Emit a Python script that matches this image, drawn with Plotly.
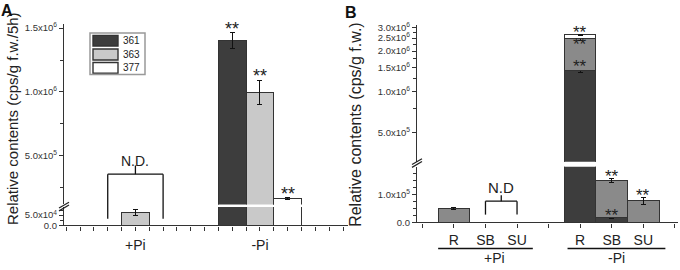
import math
import plotly.graph_objects as go

# ---------------- data ----------------
series_names = ["361", "363", "377"]

# Panel A (cps/g f.w./5h)
groups_A = ["+Pi", "-Pi"]
A_361 = [None, 1.40e6]
A_361_err = [None, 6.3e4]
A_363 = [6.3e4, 0.995e6]
A_363_err = [1.7e4, 9.5e4]
A_377 = [None, 1.65e5]
A_377_err = [None, 6.0e3]
A_sig = {"361": [False, True], "363": [False, True], "377": [False, True]}

# Panel B (cps/g f.w.) : tissues under +Pi then -Pi
tissues_B = ["R", "SB", "SU"]
groups_B = ["+Pi", "-Pi"]
B_361 = [None, None, None, 1.43e6, 1.7e4, None]
B_361_err = [None, None, None, 4.0e4, 2.0e3, None]
B_363 = [5.0e4, None, None, 1.04e6, 1.34e5, 7.7e4]
B_363_err = [3.0e3, None, None, 8.0e4, 7.0e3, 1.2e4]
B_377 = [None, None, None, 1.69e5, None, None]
B_377_err = [None, None, None, 3.0e4, None, None]
B_sig = {"361": [False, False, False, True, True, False],
         "363": [False, False, False, True, True, True],
         "377": [False, False, False, True, False, False]}

# ---------------- layout helpers ----------------
W, H = 680, 270
def px(x):
    return x / W
def py(y):
    return 1 - y / H

FONT = "Liberation Sans, Arial, sans-serif"
TXT = "#222222"
AX = "#333333"

colA = {"361": "#3d3d3d", "363": "#c9c9c9", "377": "#ffffff"}
colB = {"361": "#3d3d3d", "363": "#8a8a8a", "377": "#ffffff"}

domA_x = [px(64), px(348)]
rngA_x = [-0.58, 9.68]
domA_lo = [py(229), py(210)]
rngA_lo = [0, 9.0e4]
domA_hi = [py(207.3), py(21)]
rngA_hi = [1.19e5, 1.53e6]

domB_x = [px(417), px(678)]
rngB_x = [-1.17, 7.1]
domB_lo = [py(226), py(168.3)]
rngB_lo = [0, 1.99e5]
domB_hi = [py(163.3), py(21.7)]
rngB_hi = [5.4784, 6.4957]


def to_paper(v, dom, rng, log=False):
    if log:
        v = math.log10(v)
    return dom[0] + (v - rng[0]) / (rng[1] - rng[0]) * (dom[1] - dom[0])


fig = go.Figure()

# ---------------- Panel A bars ----------------
A_vals = {"361": (A_361, A_361_err), "363": (A_363, A_363_err), "377": (A_377, A_377_err)}
A_centers = [2, 6.5]
offsets = [-1, 0, 1]
for k, name in enumerate(series_names):
    vals, errs = A_vals[name]
    xs = [c + offsets[k] for c in A_centers]
    for ya in ["y", "y2"]:
        fig.add_trace(go.Bar(
            x=xs, y=vals, width=1, xaxis="x", yaxis=ya, name=name,
            marker=dict(color=colA[name], line=dict(color=AX, width=1)),
            error_y=dict(type="data", array=errs, visible=True, color="#111111",
                         thickness=1, width=2.5),
            showlegend=False, hoverinfo="skip"))

# ---------------- Panel B bars (stacked) ----------------
B_vals = {"361": (B_361, B_361_err), "363": (B_363, B_363_err), "377": (B_377, B_377_err)}
B_pos = [0, 1, 2, 4, 5, 6]
for name in series_names:
    vals, errs = B_vals[name]
    for ya in ["y3", "y4"]:
        fig.add_trace(go.Bar(
            x=B_pos, y=vals, width=1, xaxis="x3", yaxis=ya, name=name,
            marker=dict(color=colB[name], line=dict(color=AX, width=1)),
            error_y=dict(type="data", array=errs, visible=True, color="#111111",
                         thickness=1, width=2.5),
            showlegend=False, hoverinfo="skip"))

annotations = []
shapes = []

# ---------------- significance stars ----------------
star_font_A = dict(family=FONT, size=18, color=TXT)
star_font_B = dict(family=FONT, size=17, color=TXT)
for k, name in enumerate(series_names):
    vals, errs = A_vals[name]
    for i, c in enumerate(A_centers):
        if A_sig[name][i] and vals[i] is not None:
            top = vals[i] + (errs[i] or 0)
            annotations.append(dict(x=c + offsets[k], y=top, xref="x", yref="y2",
                                    text="**", showarrow=False, font=star_font_A,
                                    xanchor="center", yanchor="middle", yshift=4))

star_shift_B = {("361", 3): 3, ("363", 3): -8, ("377", 3): 2}
cum = [0.0] * len(B_pos)
for name in series_names:
    vals, errs = B_vals[name]
    for i, x in enumerate(B_pos):
        if vals[i] is None:
            continue
        cum[i] += vals[i]
        if B_sig[name][i]:
            top = cum[i] + (errs[i] or 0)
            shift = star_shift_B.get((name, i), 2)
            if top > 2.0e5:
                annotations.append(dict(x=x, y=math.log10(top), xref="x3", yref="y4",
                                        text="**", showarrow=False, font=star_font_B,
                                        xanchor="center", yanchor="middle", yshift=shift))
            else:
                annotations.append(dict(x=x, y=top, xref="x3", yref="y3",
                                        text="**", showarrow=False, font=star_font_B,
                                        xanchor="center", yanchor="middle", yshift=shift))

# ---------------- N.D. brackets ----------------
line_st = dict(color="#111111", width=1.3)
# Panel A: over +Pi group (x 1..3)
a_top = to_paper(3.56e5, domA_hi, rngA_hi)
a_bot = to_paper(3.3e4, domA_lo, rngA_lo)
a_tick = to_paper(4.24e5, domA_hi, rngA_hi)
for xx in [1, 3]:
    shapes.append(dict(type="line", xref="x", yref="paper", x0=xx, x1=xx, y0=a_bot, y1=a_top, line=line_st))
shapes.append(dict(type="line", xref="x", yref="paper", x0=1, x1=3, y0=a_top, y1=a_top, line=line_st))
shapes.append(dict(type="line", xref="x", yref="paper", x0=2, x1=2, y0=a_top, y1=a_tick, line=line_st))
annotations.append(dict(x=2, y=4.62e5, xref="x", yref="y2", text="N.D.", showarrow=False,
                        font=dict(family=FONT, size=14, color=TXT), xanchor="center", yanchor="middle"))

# Panel B: over +Pi SB..SU (x 1..2)
b_top = to_paper(7.6e4, domB_lo, rngB_lo)
b_bot = to_paper(2.8e4, domB_lo, rngB_lo)
b_tick = to_paper(9.7e4, domB_lo, rngB_lo)
for xx in [1, 2]:
    shapes.append(dict(type="line", xref="x3", yref="paper", x0=xx, x1=xx, y0=b_bot, y1=b_top, line=line_st))
shapes.append(dict(type="line", xref="x3", yref="paper", x0=1, x1=2, y0=b_top, y1=b_top, line=line_st))
shapes.append(dict(type="line", xref="x3", yref="paper", x0=1.5, x1=1.5, y0=b_top, y1=b_tick, line=line_st))
annotations.append(dict(x=1.5, y=1.26e5, xref="x3", yref="y3", text="N.D", showarrow=False,
                        font=dict(family=FONT, size=15, color=TXT), xanchor="center", yanchor="middle"))

# ---------------- axis break marks ----------------
brk = dict(color="#222222", width=1.2)
for (x0, y0, x1, y1) in [(59, 211, 69, 205), (59, 214, 69, 208)]:
    shapes.append(dict(type="line", xref="paper", yref="paper", x0=px(x0), y0=py(y0), x1=px(x1), y1=py(y1), line=brk))
for (x0, y0, x1, y1) in [(412, 166, 422, 160), (412, 169, 422, 163)]:
    shapes.append(dict(type="line", xref="paper", yref="paper", x0=px(x0), y0=py(y0), x1=px(x1), y1=py(y1), line=brk))

# ---------------- group underlines panel B ----------------
for (xa, xb) in [(-0.5, 2.5), (3.6, 6.7)]:
    shapes.append(dict(type="line", xref="x3", yref="paper", x0=xa, x1=xb, y0=py(253), y1=py(253),
                       line=dict(color="#111111", width=1.6)))
for g, xg in zip(groups_B, [1.3, 5.15]):
    annotations.append(dict(x=xg, y=py(262.5), xref="x3", yref="paper", text=g, showarrow=False,
                            font=dict(family=FONT, size=14, color=TXT), xanchor="center", yanchor="middle"))

# ---------------- manual legend (panel A) ----------------
shapes.append(dict(type="rect", xref="paper", yref="paper", x0=px(90), x1=px(145), y0=py(30), y1=py(73),
                   line=dict(color="#999999", width=1.5), fillcolor="#ffffff", layer="above"))
rows = [(32.5, 43.5), (46.5, 58), (60.5, 71.5)]
for name, (r0, r1) in zip(series_names, rows):
    shapes.append(dict(type="rect", xref="paper", yref="paper", x0=px(93), x1=px(118), y0=py(r1), y1=py(r0),
                       line=dict(color=AX, width=1.4), fillcolor=colA[name], layer="above"))
    annotations.append(dict(x=px(120.5), y=py((r0 + r1) / 2), xref="paper", yref="paper", text=name,
                            showarrow=False, xanchor="left", yanchor="middle",
                            font=dict(family=FONT, size=10, color=TXT)))

# ---------------- axis titles and panel letters ----------------
annotations.append(dict(x=px(12), y=py(119), xref="paper", yref="paper",
                        text="Relative contents (cps/g f.w./5h)", textangle=-90, showarrow=False,
                        xanchor="center", yanchor="middle",
                        font=dict(family=FONT, size=15, color=TXT)))
annotations.append(dict(x=px(356), y=py(125), xref="paper", yref="paper",
                        text="Relative contents (cps/g f.w.)", textangle=-90, showarrow=False,
                        xanchor="center", yanchor="middle",
                        font=dict(family=FONT, size=16, color=TXT)))
annotations.append(dict(x=px(7), y=py(7), xref="paper", yref="paper", text="<b>A</b>", showarrow=False,
                        xanchor="center", yanchor="middle",
                        font=dict(family=FONT, size=16, color="#111111")))
annotations.append(dict(x=px(351), y=py(9), xref="paper", yref="paper", text="<b>B</b>", showarrow=False,
                        xanchor="center", yanchor="middle",
                        font=dict(family=FONT, size=16, color="#111111")))

# ---------------- axes ----------------
tickfont = dict(family=FONT, size=9.5, color=AX)
common_y = dict(showline=True, linecolor=AX, linewidth=1.3, showgrid=False, zeroline=False,
                ticks="outside", ticklen=4, tickcolor=AX, tickfont=tickfont)
catfont = dict(family=FONT, size=14, color=TXT)

fig.update_layout(
    width=W, height=H, margin=dict(l=0, r=0, t=0, b=0),
    paper_bgcolor="white", plot_bgcolor="rgba(0,0,0,0)",
    barmode="stack", showlegend=False,
    font=dict(family=FONT, color=TXT),
    xaxis=dict(domain=domA_x, range=rngA_x, anchor="y", showline=True, linecolor=AX, linewidth=1.3,
               showgrid=False, zeroline=False, tickmode="array", tickvals=A_centers, ticktext=groups_A,
               ticks="outside", ticklen=4, tickcolor=AX, tickfont=catfont, ticklabelstandoff=3,
               minor=dict(tick0=0, dtick=0.5, ticks="outside", ticklen=4, tickcolor=AX, showgrid=False)),
    yaxis=dict(domain=domA_lo, range=rngA_lo, anchor="x", tickmode="array",
               tickvals=[0, 5e4], ticktext=["0.0", "5.0x10<sup>4</sup>"],
               minor=dict(tickvals=[2.5e4, 7.5e4], ticks="outside", ticklen=3, tickcolor=AX, showgrid=False),
               **common_y),
    yaxis2=dict(domain=domA_hi, range=rngA_hi, anchor="x", tickmode="array",
                tickvals=[5e5, 1e6, 1.5e6],
                ticktext=["5.0x10<sup>5</sup>", "1.0x10<sup>6</sup>", "1.5x10<sup>6</sup>"],
                minor=dict(tickvals=[2.5e5, 7.5e5, 1.25e6], ticks="outside", ticklen=3, tickcolor=AX,
                           showgrid=False),
                **common_y),
    xaxis3=dict(domain=domB_x, range=rngB_x, anchor="y3", showline=True, linecolor=AX, linewidth=1.3,
                showgrid=False, zeroline=False, tickmode="array", tickvals=B_pos,
                ticktext=tissues_B + tissues_B, ticks="outside", ticklen=4, tickcolor=AX,
                tickfont=catfont, ticklabelstandoff=1,
                minor=dict(tick0=0, dtick=1, ticks="outside", ticklen=4, tickcolor=AX, showgrid=False)),
    yaxis3=dict(domain=domB_lo, range=rngB_lo, anchor="x3", tickmode="array",
                tickvals=[0, 1e5], ticktext=["0.0", "1.0x10<sup>5</sup>"],
                minor=dict(tickvals=[2.5e4, 5e4, 7.5e4, 1.25e5, 1.5e5, 1.75e5], ticks="outside", ticklen=3,
                           tickcolor=AX, showgrid=False),
                **common_y),
    yaxis4=dict(domain=domB_hi, range=rngB_hi, anchor="x3", type="log", tickmode="array",
                tickvals=[5e5, 1e6, 1.5e6, 2e6, 2.5e6, 3e6],
                ticktext=["5.0x10<sup>5</sup>", "1.0x10<sup>6</sup>", "1.5x10<sup>6</sup>",
                          "2.0x10<sup>6</sup>", "2.5x10<sup>6</sup>", "3.0x10<sup>6</sup>"],
                minor=dict(tickvals=[7.5e5, 1.25e6, 1.75e6, 2.25e6, 2.75e6], ticks="outside", ticklen=3,
                           tickcolor=AX, showgrid=False),
                **common_y),
    annotations=annotations, shapes=shapes,
)

fig.write_html("out.html", config={"displayModeBar": False},
               post_script="document.body.style.margin='0px';")
